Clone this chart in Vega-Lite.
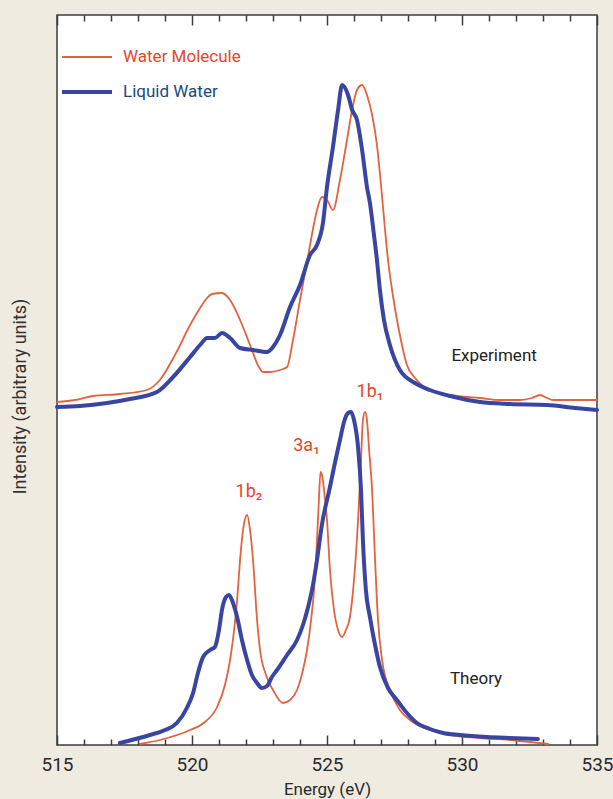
{
  "$schema": "https://vega.github.io/schema/vega-lite/v6.json",
  "width": 540,
  "height": 730,
  "autosize": {"type": "none"},
  "padding": {"left": 57, "top": 15, "right": 16, "bottom": 54},
  "background": "#efebe1",
  "config": {
    "view": {"fill": "#ffffff", "stroke": "#3c3c3c", "strokeWidth": 1.5},
    "font": "Roboto, sans-serif"
  },
  "datasets": {
    "spectra": [
      {"panel": "Experiment", "sample": "Water Molecule", "energy": 515.00, "intensity": 343},
      {"panel": "Experiment", "sample": "Water Molecule", "energy": 515.67, "intensity": 345},
      {"panel": "Experiment", "sample": "Water Molecule", "energy": 516.33, "intensity": 349},
      {"panel": "Experiment", "sample": "Water Molecule", "energy": 517.33, "intensity": 351},
      {"panel": "Experiment", "sample": "Water Molecule", "energy": 518.33, "intensity": 355},
      {"panel": "Experiment", "sample": "Water Molecule", "energy": 518.81, "intensity": 365},
      {"panel": "Experiment", "sample": "Water Molecule", "energy": 519.37, "intensity": 390},
      {"panel": "Experiment", "sample": "Water Molecule", "energy": 519.93, "intensity": 420},
      {"panel": "Experiment", "sample": "Water Molecule", "energy": 520.30, "intensity": 437},
      {"panel": "Experiment", "sample": "Water Molecule", "energy": 520.56, "intensity": 447},
      {"panel": "Experiment", "sample": "Water Molecule", "energy": 520.74, "intensity": 451},
      {"panel": "Experiment", "sample": "Water Molecule", "energy": 521.11, "intensity": 452},
      {"panel": "Experiment", "sample": "Water Molecule", "energy": 521.41, "intensity": 445},
      {"panel": "Experiment", "sample": "Water Molecule", "energy": 521.78, "intensity": 425},
      {"panel": "Experiment", "sample": "Water Molecule", "energy": 522.15, "intensity": 400},
      {"panel": "Experiment", "sample": "Water Molecule", "energy": 522.44, "intensity": 380},
      {"panel": "Experiment", "sample": "Water Molecule", "energy": 522.63, "intensity": 373},
      {"panel": "Experiment", "sample": "Water Molecule", "energy": 522.89, "intensity": 373},
      {"panel": "Experiment", "sample": "Water Molecule", "energy": 523.26, "intensity": 375},
      {"panel": "Experiment", "sample": "Water Molecule", "energy": 523.52, "intensity": 378},
      {"panel": "Experiment", "sample": "Water Molecule", "energy": 523.74, "intensity": 405},
      {"panel": "Experiment", "sample": "Water Molecule", "energy": 524.00, "intensity": 445},
      {"panel": "Experiment", "sample": "Water Molecule", "energy": 524.26, "intensity": 483},
      {"panel": "Experiment", "sample": "Water Molecule", "energy": 524.44, "intensity": 510},
      {"panel": "Experiment", "sample": "Water Molecule", "energy": 524.63, "intensity": 535},
      {"panel": "Experiment", "sample": "Water Molecule", "energy": 524.81, "intensity": 548},
      {"panel": "Experiment", "sample": "Water Molecule", "energy": 525.00, "intensity": 545},
      {"panel": "Experiment", "sample": "Water Molecule", "energy": 525.22, "intensity": 535},
      {"panel": "Experiment", "sample": "Water Molecule", "energy": 525.48, "intensity": 565},
      {"panel": "Experiment", "sample": "Water Molecule", "energy": 525.74, "intensity": 605},
      {"panel": "Experiment", "sample": "Water Molecule", "energy": 525.93, "intensity": 635},
      {"panel": "Experiment", "sample": "Water Molecule", "energy": 526.11, "intensity": 655},
      {"panel": "Experiment", "sample": "Water Molecule", "energy": 526.30, "intensity": 660},
      {"panel": "Experiment", "sample": "Water Molecule", "energy": 526.48, "intensity": 650},
      {"panel": "Experiment", "sample": "Water Molecule", "energy": 526.67, "intensity": 630},
      {"panel": "Experiment", "sample": "Water Molecule", "energy": 526.85, "intensity": 600},
      {"panel": "Experiment", "sample": "Water Molecule", "energy": 527.00, "intensity": 560},
      {"panel": "Experiment", "sample": "Water Molecule", "energy": 527.15, "intensity": 515},
      {"panel": "Experiment", "sample": "Water Molecule", "energy": 527.26, "intensity": 485},
      {"panel": "Experiment", "sample": "Water Molecule", "energy": 527.41, "intensity": 455},
      {"panel": "Experiment", "sample": "Water Molecule", "energy": 527.56, "intensity": 430},
      {"panel": "Experiment", "sample": "Water Molecule", "energy": 527.70, "intensity": 410},
      {"panel": "Experiment", "sample": "Water Molecule", "energy": 527.96, "intensity": 380},
      {"panel": "Experiment", "sample": "Water Molecule", "energy": 528.26, "intensity": 367},
      {"panel": "Experiment", "sample": "Water Molecule", "energy": 528.81, "intensity": 355},
      {"panel": "Experiment", "sample": "Water Molecule", "energy": 529.56, "intensity": 350},
      {"panel": "Experiment", "sample": "Water Molecule", "energy": 530.67, "intensity": 347},
      {"panel": "Experiment", "sample": "Water Molecule", "energy": 531.41, "intensity": 345},
      {"panel": "Experiment", "sample": "Water Molecule", "energy": 532.15, "intensity": 345},
      {"panel": "Experiment", "sample": "Water Molecule", "energy": 532.59, "intensity": 347},
      {"panel": "Experiment", "sample": "Water Molecule", "energy": 532.89, "intensity": 350},
      {"panel": "Experiment", "sample": "Water Molecule", "energy": 533.15, "intensity": 347},
      {"panel": "Experiment", "sample": "Water Molecule", "energy": 533.37, "intensity": 345},
      {"panel": "Experiment", "sample": "Water Molecule", "energy": 534.19, "intensity": 345},
      {"panel": "Experiment", "sample": "Water Molecule", "energy": 535.00, "intensity": 345},

      {"panel": "Theory", "sample": "Water Molecule", "energy": 518.07, "intensity": 1},
      {"panel": "Theory", "sample": "Water Molecule", "energy": 518.81, "intensity": 5},
      {"panel": "Theory", "sample": "Water Molecule", "energy": 519.93, "intensity": 15},
      {"panel": "Theory", "sample": "Water Molecule", "energy": 520.48, "intensity": 23},
      {"panel": "Theory", "sample": "Water Molecule", "energy": 520.93, "intensity": 38},
      {"panel": "Theory", "sample": "Water Molecule", "energy": 521.22, "intensity": 60},
      {"panel": "Theory", "sample": "Water Molecule", "energy": 521.41, "intensity": 85},
      {"panel": "Theory", "sample": "Water Molecule", "energy": 521.56, "intensity": 115},
      {"panel": "Theory", "sample": "Water Molecule", "energy": 521.67, "intensity": 145},
      {"panel": "Theory", "sample": "Water Molecule", "energy": 521.78, "intensity": 185},
      {"panel": "Theory", "sample": "Water Molecule", "energy": 521.89, "intensity": 215},
      {"panel": "Theory", "sample": "Water Molecule", "energy": 522.04, "intensity": 230},
      {"panel": "Theory", "sample": "Water Molecule", "energy": 522.15, "intensity": 215},
      {"panel": "Theory", "sample": "Water Molecule", "energy": 522.26, "intensity": 185},
      {"panel": "Theory", "sample": "Water Molecule", "energy": 522.41, "intensity": 125},
      {"panel": "Theory", "sample": "Water Molecule", "energy": 522.52, "intensity": 95},
      {"panel": "Theory", "sample": "Water Molecule", "energy": 522.74, "intensity": 70},
      {"panel": "Theory", "sample": "Water Molecule", "energy": 523.00, "intensity": 55},
      {"panel": "Theory", "sample": "Water Molecule", "energy": 523.37, "intensity": 42},
      {"panel": "Theory", "sample": "Water Molecule", "energy": 523.63, "intensity": 45},
      {"panel": "Theory", "sample": "Water Molecule", "energy": 523.89, "intensity": 55},
      {"panel": "Theory", "sample": "Water Molecule", "energy": 524.11, "intensity": 75},
      {"panel": "Theory", "sample": "Water Molecule", "energy": 524.26, "intensity": 95},
      {"panel": "Theory", "sample": "Water Molecule", "energy": 524.41, "intensity": 125},
      {"panel": "Theory", "sample": "Water Molecule", "energy": 524.52, "intensity": 155},
      {"panel": "Theory", "sample": "Water Molecule", "energy": 524.63, "intensity": 205},
      {"panel": "Theory", "sample": "Water Molecule", "energy": 524.70, "intensity": 245},
      {"panel": "Theory", "sample": "Water Molecule", "energy": 524.76, "intensity": 273},
      {"panel": "Theory", "sample": "Water Molecule", "energy": 524.83, "intensity": 268},
      {"panel": "Theory", "sample": "Water Molecule", "energy": 524.89, "intensity": 255},
      {"panel": "Theory", "sample": "Water Molecule", "energy": 525.00, "intensity": 225},
      {"panel": "Theory", "sample": "Water Molecule", "energy": 525.11, "intensity": 175},
      {"panel": "Theory", "sample": "Water Molecule", "energy": 525.26, "intensity": 135},
      {"panel": "Theory", "sample": "Water Molecule", "energy": 525.41, "intensity": 115},
      {"panel": "Theory", "sample": "Water Molecule", "energy": 525.56, "intensity": 108},
      {"panel": "Theory", "sample": "Water Molecule", "energy": 525.70, "intensity": 115},
      {"panel": "Theory", "sample": "Water Molecule", "energy": 525.85, "intensity": 128},
      {"panel": "Theory", "sample": "Water Molecule", "energy": 526.00, "intensity": 165},
      {"panel": "Theory", "sample": "Water Molecule", "energy": 526.15, "intensity": 225},
      {"panel": "Theory", "sample": "Water Molecule", "energy": 526.26, "intensity": 285},
      {"panel": "Theory", "sample": "Water Molecule", "energy": 526.33, "intensity": 325},
      {"panel": "Theory", "sample": "Water Molecule", "energy": 526.41, "intensity": 333},
      {"panel": "Theory", "sample": "Water Molecule", "energy": 526.48, "intensity": 325},
      {"panel": "Theory", "sample": "Water Molecule", "energy": 526.56, "intensity": 295},
      {"panel": "Theory", "sample": "Water Molecule", "energy": 526.67, "intensity": 255},
      {"panel": "Theory", "sample": "Water Molecule", "energy": 526.78, "intensity": 185},
      {"panel": "Theory", "sample": "Water Molecule", "energy": 526.89, "intensity": 125},
      {"panel": "Theory", "sample": "Water Molecule", "energy": 527.04, "intensity": 85},
      {"panel": "Theory", "sample": "Water Molecule", "energy": 527.33, "intensity": 55},
      {"panel": "Theory", "sample": "Water Molecule", "energy": 527.70, "intensity": 35},
      {"panel": "Theory", "sample": "Water Molecule", "energy": 528.07, "intensity": 25},
      {"panel": "Theory", "sample": "Water Molecule", "energy": 528.81, "intensity": 15},
      {"panel": "Theory", "sample": "Water Molecule", "energy": 529.56, "intensity": 10},
      {"panel": "Theory", "sample": "Water Molecule", "energy": 530.67, "intensity": 7},
      {"panel": "Theory", "sample": "Water Molecule", "energy": 531.78, "intensity": 5},
      {"panel": "Theory", "sample": "Water Molecule", "energy": 532.52, "intensity": 3},
      {"panel": "Theory", "sample": "Water Molecule", "energy": 533.19, "intensity": 1},

      {"panel": "Experiment", "sample": "Liquid Water", "energy": 515.00, "intensity": 338},
      {"panel": "Experiment", "sample": "Liquid Water", "energy": 515.85, "intensity": 339},
      {"panel": "Experiment", "sample": "Liquid Water", "energy": 516.85, "intensity": 342},
      {"panel": "Experiment", "sample": "Liquid Water", "energy": 517.70, "intensity": 346},
      {"panel": "Experiment", "sample": "Liquid Water", "energy": 518.70, "intensity": 353},
      {"panel": "Experiment", "sample": "Liquid Water", "energy": 519.30, "intensity": 368},
      {"panel": "Experiment", "sample": "Liquid Water", "energy": 519.93, "intensity": 388},
      {"panel": "Experiment", "sample": "Liquid Water", "energy": 520.30, "intensity": 400},
      {"panel": "Experiment", "sample": "Liquid Water", "energy": 520.56, "intensity": 407},
      {"panel": "Experiment", "sample": "Liquid Water", "energy": 520.85, "intensity": 407},
      {"panel": "Experiment", "sample": "Liquid Water", "energy": 521.11, "intensity": 412},
      {"panel": "Experiment", "sample": "Liquid Water", "energy": 521.41, "intensity": 407},
      {"panel": "Experiment", "sample": "Liquid Water", "energy": 521.78, "intensity": 397},
      {"panel": "Experiment", "sample": "Liquid Water", "energy": 522.26, "intensity": 395},
      {"panel": "Experiment", "sample": "Liquid Water", "energy": 522.78, "intensity": 393},
      {"panel": "Experiment", "sample": "Liquid Water", "energy": 523.00, "intensity": 398},
      {"panel": "Experiment", "sample": "Liquid Water", "energy": 523.26, "intensity": 410},
      {"panel": "Experiment", "sample": "Liquid Water", "energy": 523.63, "intensity": 438},
      {"panel": "Experiment", "sample": "Liquid Water", "energy": 524.00, "intensity": 460},
      {"panel": "Experiment", "sample": "Liquid Water", "energy": 524.37, "intensity": 490},
      {"panel": "Experiment", "sample": "Liquid Water", "energy": 524.63, "intensity": 500},
      {"panel": "Experiment", "sample": "Liquid Water", "energy": 524.85, "intensity": 522},
      {"panel": "Experiment", "sample": "Liquid Water", "energy": 525.00, "intensity": 558},
      {"panel": "Experiment", "sample": "Liquid Water", "energy": 525.22, "intensity": 598},
      {"panel": "Experiment", "sample": "Liquid Water", "energy": 525.41, "intensity": 635},
      {"panel": "Experiment", "sample": "Liquid Water", "energy": 525.56, "intensity": 660},
      {"panel": "Experiment", "sample": "Liquid Water", "energy": 525.78, "intensity": 650},
      {"panel": "Experiment", "sample": "Liquid Water", "energy": 525.93, "intensity": 635},
      {"panel": "Experiment", "sample": "Liquid Water", "energy": 526.11, "intensity": 625},
      {"panel": "Experiment", "sample": "Liquid Water", "energy": 526.30, "intensity": 595},
      {"panel": "Experiment", "sample": "Liquid Water", "energy": 526.48, "intensity": 558},
      {"panel": "Experiment", "sample": "Liquid Water", "energy": 526.59, "intensity": 542},
      {"panel": "Experiment", "sample": "Liquid Water", "energy": 526.74, "intensity": 510},
      {"panel": "Experiment", "sample": "Liquid Water", "energy": 526.85, "intensity": 485},
      {"panel": "Experiment", "sample": "Liquid Water", "energy": 526.96, "intensity": 455},
      {"panel": "Experiment", "sample": "Liquid Water", "energy": 527.11, "intensity": 425},
      {"panel": "Experiment", "sample": "Liquid Water", "energy": 527.33, "intensity": 400},
      {"panel": "Experiment", "sample": "Liquid Water", "energy": 527.70, "intensity": 375},
      {"panel": "Experiment", "sample": "Liquid Water", "energy": 528.26, "intensity": 362},
      {"panel": "Experiment", "sample": "Liquid Water", "energy": 528.81, "intensity": 355},
      {"panel": "Experiment", "sample": "Liquid Water", "energy": 529.56, "intensity": 349},
      {"panel": "Experiment", "sample": "Liquid Water", "energy": 530.67, "intensity": 343},
      {"panel": "Experiment", "sample": "Liquid Water", "energy": 531.78, "intensity": 341},
      {"panel": "Experiment", "sample": "Liquid Water", "energy": 533.15, "intensity": 340},
      {"panel": "Experiment", "sample": "Liquid Water", "energy": 534.19, "intensity": 337},
      {"panel": "Experiment", "sample": "Liquid Water", "energy": 535.00, "intensity": 335},

      {"panel": "Theory", "sample": "Liquid Water", "energy": 517.33, "intensity": 2},
      {"panel": "Theory", "sample": "Liquid Water", "energy": 518.44, "intensity": 10},
      {"panel": "Theory", "sample": "Liquid Water", "energy": 519.00, "intensity": 15},
      {"panel": "Theory", "sample": "Liquid Water", "energy": 519.44, "intensity": 22},
      {"panel": "Theory", "sample": "Liquid Water", "energy": 519.81, "intensity": 37},
      {"panel": "Theory", "sample": "Liquid Water", "energy": 520.04, "intensity": 52},
      {"panel": "Theory", "sample": "Liquid Water", "energy": 520.22, "intensity": 72},
      {"panel": "Theory", "sample": "Liquid Water", "energy": 520.41, "intensity": 88},
      {"panel": "Theory", "sample": "Liquid Water", "energy": 520.67, "intensity": 95},
      {"panel": "Theory", "sample": "Liquid Water", "energy": 520.85, "intensity": 98},
      {"panel": "Theory", "sample": "Liquid Water", "energy": 521.00, "intensity": 115},
      {"panel": "Theory", "sample": "Liquid Water", "energy": 521.11, "intensity": 135},
      {"panel": "Theory", "sample": "Liquid Water", "energy": 521.26, "intensity": 148},
      {"panel": "Theory", "sample": "Liquid Water", "energy": 521.37, "intensity": 150},
      {"panel": "Theory", "sample": "Liquid Water", "energy": 521.52, "intensity": 142},
      {"panel": "Theory", "sample": "Liquid Water", "energy": 521.67, "intensity": 128},
      {"panel": "Theory", "sample": "Liquid Water", "energy": 521.85, "intensity": 105},
      {"panel": "Theory", "sample": "Liquid Water", "energy": 522.04, "intensity": 85},
      {"panel": "Theory", "sample": "Liquid Water", "energy": 522.22, "intensity": 70},
      {"panel": "Theory", "sample": "Liquid Water", "energy": 522.41, "intensity": 62},
      {"panel": "Theory", "sample": "Liquid Water", "energy": 522.59, "intensity": 57},
      {"panel": "Theory", "sample": "Liquid Water", "energy": 522.78, "intensity": 59},
      {"panel": "Theory", "sample": "Liquid Water", "energy": 522.96, "intensity": 68},
      {"panel": "Theory", "sample": "Liquid Water", "energy": 523.15, "intensity": 75},
      {"panel": "Theory", "sample": "Liquid Water", "energy": 523.52, "intensity": 90},
      {"panel": "Theory", "sample": "Liquid Water", "energy": 523.89, "intensity": 105},
      {"panel": "Theory", "sample": "Liquid Water", "energy": 524.11, "intensity": 120},
      {"panel": "Theory", "sample": "Liquid Water", "energy": 524.30, "intensity": 138},
      {"panel": "Theory", "sample": "Liquid Water", "energy": 524.48, "intensity": 160},
      {"panel": "Theory", "sample": "Liquid Water", "energy": 524.63, "intensity": 185},
      {"panel": "Theory", "sample": "Liquid Water", "energy": 524.81, "intensity": 220},
      {"panel": "Theory", "sample": "Liquid Water", "energy": 525.11, "intensity": 258},
      {"panel": "Theory", "sample": "Liquid Water", "energy": 525.30, "intensity": 283},
      {"panel": "Theory", "sample": "Liquid Water", "energy": 525.48, "intensity": 305},
      {"panel": "Theory", "sample": "Liquid Water", "energy": 525.63, "intensity": 323},
      {"panel": "Theory", "sample": "Liquid Water", "energy": 525.78, "intensity": 332},
      {"panel": "Theory", "sample": "Liquid Water", "energy": 525.89, "intensity": 333},
      {"panel": "Theory", "sample": "Liquid Water", "energy": 526.00, "intensity": 325},
      {"panel": "Theory", "sample": "Liquid Water", "energy": 526.15, "intensity": 298},
      {"panel": "Theory", "sample": "Liquid Water", "energy": 526.26, "intensity": 255},
      {"panel": "Theory", "sample": "Liquid Water", "energy": 526.33, "intensity": 205},
      {"panel": "Theory", "sample": "Liquid Water", "energy": 526.44, "intensity": 155},
      {"panel": "Theory", "sample": "Liquid Water", "energy": 526.59, "intensity": 128},
      {"panel": "Theory", "sample": "Liquid Water", "energy": 526.78, "intensity": 100},
      {"panel": "Theory", "sample": "Liquid Water", "energy": 526.96, "intensity": 78},
      {"panel": "Theory", "sample": "Liquid Water", "energy": 527.26, "intensity": 57},
      {"panel": "Theory", "sample": "Liquid Water", "energy": 527.59, "intensity": 45},
      {"panel": "Theory", "sample": "Liquid Water", "energy": 527.96, "intensity": 32},
      {"panel": "Theory", "sample": "Liquid Water", "energy": 528.33, "intensity": 22},
      {"panel": "Theory", "sample": "Liquid Water", "energy": 528.81, "intensity": 16},
      {"panel": "Theory", "sample": "Liquid Water", "energy": 529.30, "intensity": 12},
      {"panel": "Theory", "sample": "Liquid Water", "energy": 529.93, "intensity": 10},
      {"panel": "Theory", "sample": "Liquid Water", "energy": 530.93, "intensity": 8},
      {"panel": "Theory", "sample": "Liquid Water", "energy": 531.78, "intensity": 7},
      {"panel": "Theory", "sample": "Liquid Water", "energy": 532.81, "intensity": 6}
    ],
    "labels": [
      {"energy": 531.19, "intensity": 384, "text": "Experiment", "kind": "panel"},
      {"energy": 530.52, "intensity": 61, "text": "Theory", "kind": "panel"},
      {"energy": 526.59, "intensity": 348, "text": "1b₁", "kind": "peak"},
      {"energy": 524.24, "intensity": 294, "text": "3a₁", "kind": "peak"},
      {"energy": 522.11, "intensity": 248, "text": "1b₂", "kind": "peak"}
    ]
  },
  "layer": [
    {
      "data": {"name": "spectra"},
      "mark": {"type": "line", "interpolate": "monotone", "strokeJoin": "round", "strokeCap": "round"},
      "encoding": {
        "x": {
          "field": "energy", "type": "quantitative",
          "scale": {"domain": [515, 535], "nice": false, "zero": false},
          "axis": {
            "title": "Energy (eV)",
            "values": [515,516,517,518,519,520,521,522,523,524,525,526,527,528,529,530,531,532,533,534,535],
            "labelExpr": "datum.value % 5 === 0 ? datum.value : ''",
            "labelFontSize": 19,
            "labelColor": "#2a2a2a",
            "labelPadding": 20,
            "labelFlush": false,
            "labelOverlap": false,
            "tickSize": {"condition": {"test": "datum.value % 5 === 0", "value": -10}, "value": -6},
            "tickColor": "#3c3c3c",
            "tickWidth": 1.5,
            "domain": false,
            "grid": false,
            "titleFontSize": 17,
            "titleFontWeight": "normal",
            "titleColor": "#2a2a2a",
            "titlePadding": 3
          }
        },
        "y": {
          "field": "intensity", "type": "quantitative",
          "scale": {"domain": [0, 730], "nice": false},
          "axis": {
            "title": "Intensity (arbitrary units)",
            "labels": false, "ticks": false, "domain": false, "grid": false,
            "titleFontSize": 18,
            "titleFontWeight": "normal",
            "titleColor": "#333333",
            "titlePadding": 28,
            "titleY": 381
          }
        },
        "color": {
          "field": "sample", "type": "nominal",
          "scale": {"domain": ["Water Molecule", "Liquid Water"], "range": ["#e3623f", "#3a45a2"]},
          "legend": {
            "orient": "none", "legendX": 3, "legendY": 16,
            "title": null, "padding": 0,
            "symbolType": "stroke", "symbolSize": 2500, "symbolStrokeWidth": 4,
            "labelFontSize": 17, "labelOffset": 9, "rowPadding": -4,
            "encode": {"labels": {"update": {"fill": {"signal": "datum.value === 'Water Molecule' ? '#e8452c' : '#1a4a7c'"}}}}
          }
        },
        "strokeWidth": {
          "field": "sample", "type": "nominal",
          "scale": {"domain": ["Water Molecule", "Liquid Water"], "range": [1.8, 4]},
          "legend": null
        },
        "detail": {"field": "panel", "type": "nominal"}
      }
    },
    {
      "data": {"name": "labels"},
      "mark": {"type": "text", "baseline": "alphabetic", "align": "center"},
      "encoding": {
        "x": {
          "field": "energy", "type": "quantitative",
          "axis": {
            "orient": "top", "title": null, "labels": false, "domain": false, "grid": false,
            "values": [515,516,517,518,519,520,521,522,523,524,525,526,527,528,529,530,531,532,533,534,535],
            "tickSize": {"condition": {"test": "datum.value % 5 === 0", "value": -10}, "value": -6},
            "tickColor": "#3c3c3c", "tickWidth": 1.5
          }
        },
        "y": {
          "field": "intensity", "type": "quantitative",
          "axis": {
            "title": "Intensity (arbitrary units)",
            "labels": false, "ticks": false, "domain": false, "grid": false,
            "titleFontSize": 18,
            "titleFontWeight": "normal",
            "titleColor": "#333333",
            "titlePadding": 28,
            "titleY": 381
          }
        },
        "text": {"field": "text"},
        "size": {"condition": {"test": "datum.kind === 'panel'", "value": 17}, "value": 18},
        "color": {"condition": {"test": "datum.kind === 'peak'", "value": "#e8452c"}, "value": "#222222"}
      }
    }
  ],
  "resolve": {"axis": {"x": "independent"}}
}
